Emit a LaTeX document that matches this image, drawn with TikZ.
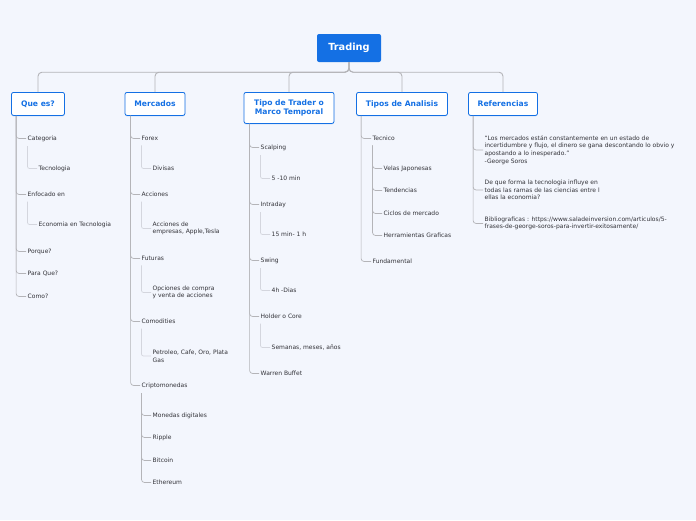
\documentclass[tikz,border=0pt]{standalone}
\usepackage{fontspec}
\setmainfont{DejaVu Sans}
\usetikzlibrary{calc,shadows}
\definecolor{trblue}{RGB}{20,112,228}
\definecolor{bgpage}{RGB}{243,246,253}
\definecolor{itemtext}{RGB}{50,50,56}
\definecolor{trunkgray}{RGB}{180,180,184}
\definecolor{twiggray}{RGB}{212,214,222}

\begin{document}
\begin{tikzpicture}[x=1pt,y=-1pt,
    root/.style={fill=trblue,rounded corners=2pt,text=white,
      font=\fontsize{9.8}{11}\selectfont\bfseries,
      minimum width=64pt,minimum height=28pt,inner sep=0pt},
    branch/.style={draw=trblue,line width=0.8pt,fill=white,rounded corners=2pt,
      text=trblue,font=\fontsize{7.6}{9.6}\selectfont\bfseries,align=center,
      anchor=north,minimum height=23pt,inner xsep=2pt,
      drop shadow={shadow xshift=0pt,shadow yshift=-1pt,fill=trblue!45,opacity=.5}},
    item/.style={anchor=west,inner sep=1.5pt,text=itemtext,yshift=-1.5pt,
      font=\fontsize{6}{7.6}\selectfont,align=left},
    trunk/.style={draw=trunkgray,line width=0.7pt,rounded corners=3pt},
    twig/.style={draw=twiggray,line width=0.7pt,rounded corners=2pt},
    link/.style={draw=trunkgray,line width=0.9pt,rounded corners=4pt}]

    \fill[bgpage] (0,0) rectangle (696,520);
    \useasboundingbox (0,0) rectangle (696,520);

    % root and main branches
    \node[root] (trading) at (349,48) {Trading};

    \node[branch,minimum width=53pt] (quees) at (38,92) {Que es?};
    \node[branch,minimum width=60pt] (mercados) at (155,92) {Mercados};
    \node[branch,minimum width=90pt,minimum height=31pt] (tipotrader) at (289,92)
    {Tipo de Trader o\\Marco Temporal};
    \node[branch,minimum width=91pt] (analisis) at (402,92) {Tipos de Analisis};
    \node[branch,minimum width=69pt] (referencias) at (503,92) {Referencias};

    \foreach \b in {quees,mercados,tipotrader,analisis,referencias}
    \draw[link] (trading.south) -- ++(0,10) -| (\b.north);

    % Que es?
    \node[item] (categoria) at (26,137) {Categoria};
    \node[item] (tecnologia) at (37,167) {Tecnologia};
    \node[item] (enfocado) at (26,193) {Enfocado en};
    \node[item] (economia) at (37,223) {Economia en Tecnologia};
    \node[item] (porque) at (26,250) {Porque?};
    \node[item] (paraque) at (26,272) {Para Que?};
    \node[item] (como) at (26,295) {Como?};

    \foreach \i in {categoria,enfocado,porque,paraque,como}
    \draw[trunk] ([xshift=5pt]quees.south west) |- (\i.west);
    \draw[twig] ([xshift=1.5pt,yshift=-3pt]categoria.south west) |- (tecnologia.west);
    \draw[twig] ([xshift=1.5pt,yshift=-3pt]enfocado.south west) |- (economia.west);

    % Mercados
    \node[item] (forex) at (140,137) {Forex};
    \node[item] (divisas) at (151,167) {Divisas};
    \node[item] (acciones) at (140,193) {Acciones};
    \node[item] (empresas) at (151,227) {Acciones de\\empresas, Apple,Tesla};
    \node[item] (futuras) at (140,257) {Futuras};
    \node[item] (opciones) at (151,291) {Opciones de compra\\y venta de acciones};
    \node[item] (comodities) at (140,320) {Comodities};
    \node[item] (petroleo) at (151,354.5) {Petroleo, Cafe, Oro, Plata\\Gas};
    \node[item] (cripto) at (140,384) {Criptomonedas};
    \node[item] (monedas) at (151,414) {Monedas digitales};
    \node[item] (ripple) at (151,436) {Ripple};
    \node[item] (bitcoin) at (151,459) {Bitcoin};
    \node[item] (ethereum) at (151,481) {Ethereum};

    \foreach \i in {forex,acciones,futuras,comodities,cripto}
    \draw[trunk] ([xshift=6pt]mercados.south west) |- (\i.west);
    \draw[twig] ([xshift=1.5pt,yshift=-3pt]forex.south west) |- (divisas.west);
    \draw[twig] ([xshift=1.5pt,yshift=-3pt]acciones.south west) |- (empresas.west);
    \draw[twig] ([xshift=1.5pt,yshift=-3pt]futuras.south west) |- (opciones.west);
    \draw[twig] ([xshift=1.5pt,yshift=-3pt]comodities.south west) |- (petroleo.west);
    \foreach \i in {monedas,ripple,bitcoin,ethereum}
    \draw[trunk] ([xshift=1.5pt,yshift=-3pt]cripto.south west) |- (\i.west);

    % Tipo de Trader o Marco Temporal
    \node[item] (scalping) at (259,146) {Scalping};
    \node[item] (cinco) at (270,177) {5 -10 min};
    \node[item] (intraday) at (259,203) {Intraday};
    \node[item] (quince) at (270,233) {15 min- 1 h};
    \node[item] (swing) at (259,259) {Swing};
    \node[item] (cuatro) at (270,289) {4h -Dias};
    \node[item] (holder) at (259,315) {Holder o Core};
    \node[item] (semanas) at (270,346) {Semanas, meses, años};
    \node[item] (warren) at (259,372) {Warren Buffet};

    \foreach \i in {scalping,intraday,swing,holder,warren}
    \draw[trunk] ([xshift=6pt]tipotrader.south west) |- (\i.west);
    \draw[twig] ([xshift=1.5pt,yshift=-3pt]scalping.south west) |- (cinco.west);
    \draw[twig] ([xshift=1.5pt,yshift=-3pt]intraday.south west) |- (quince.west);
    \draw[twig] ([xshift=1.5pt,yshift=-3pt]swing.south west) |- (cuatro.west);
    \draw[twig] ([xshift=1.5pt,yshift=-3pt]holder.south west) |- (semanas.west);

    % Tipos de Analisis
    \node[item] (tecnico) at (371,137) {Tecnico};
    \node[item] (velas) at (382,167) {Velas Japonesas};
    \node[item] (tendencias) at (382,189) {Tendencias};
    \node[item] (ciclos) at (382,212) {Ciclos de mercado};
    \node[item] (herramientas) at (382,234) {Herramientas Graficas};
    \node[item] (fundamental) at (371,260) {Fundamental};

    \foreach \i in {tecnico,fundamental}
    \draw[trunk] ([xshift=5pt]analisis.south west) |- (\i.west);
    \foreach \i in {velas,tendencias,ciclos,herramientas}
    \draw[trunk] ([xshift=1.5pt,yshift=-3pt]tecnico.south west) |- (\i.west);

    % Referencias
    \node[item] (soros) at (483,148.5)
    {“Los mercados están constantemente en un estado de\\
      incertidumbre y flujo, el dinero se gana descontando lo obvio y\\
      apostando a lo inesperado.”\\
      -George Soros};
    \node[item] (pregunta) at (483,188.5)
    {De que forma la tecnologia influye en\\
      todas las ramas de las ciencias entre l\\
      ellas la economia?};
    \node[item] (biblio) at (483,222)
    {Bibliograficas : https://www.saladeinversion.com/articulos/5-\\
      frases-de-george-soros-para-invertir-exitosamente/};

    \foreach \i in {soros,pregunta,biblio}
    \draw[trunk] ([xshift=5pt]referencias.south west) |- (\i.west);

  \end{tikzpicture}
\end{document}
